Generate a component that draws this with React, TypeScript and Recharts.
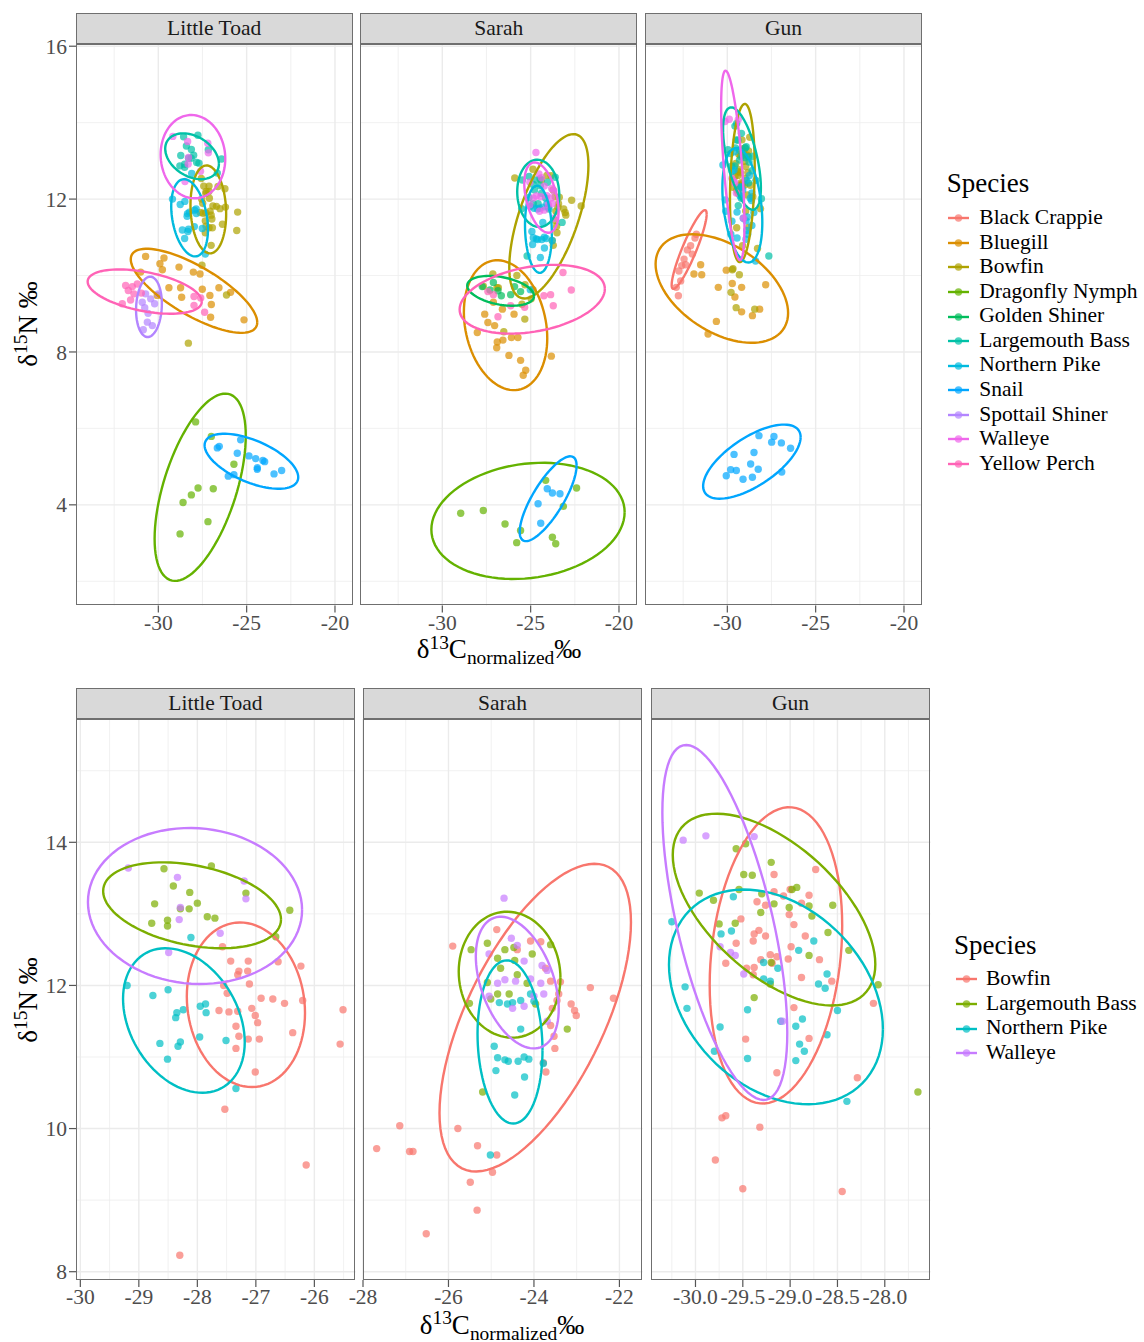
import React from 'react';
import { ScatterChart, Scatter, XAxis, YAxis, ReferenceLine } from 'recharts';

type Pt = [number, number];
// species, centre x, centre y, half-extent x, half-extent y, correlation
type Ell = [string, number, number, number, number, number];

const FONT = '"Liberation Serif", "Times New Roman", serif';

const topSpecies = ['Black Crappie', 'Bluegill', 'Bowfin', 'Dragonfly Nymph', 'Golden Shiner', 'Largemouth Bass', 'Northern Pike', 'Snail', 'Spottail Shiner', 'Walleye', 'Yellow Perch'];
const topColors = ['#F8766D', '#DB8E00', '#AEA200', '#64B200', '#00BD5C', '#00C1A7', '#00BADE', '#00A6FF', '#B385FF', '#EF67EB', '#FF63B6'];
const bottomSpecies = ['Bowfin', 'Largemouth Bass', 'Northern Pike', 'Walleye'];
const bottomColors = ['#F8766D', '#7CAE00', '#00BFC4', '#C77CFF'];
const sites = ['Little Toad', 'Sarah', 'Gun'];

// ---- Little Toad ----
const ltBluegill: Pt[] = [[-30.72, 10.5], [-29.68, 10.46], [-29.91, 10.31], [-29.77, 10.15], [-31.0, 10.09], [-28.83, 10.22], [-28.02, 10.09], [-27.64, 10.04], [-29.4, 9.68], [-28.74, 9.68], [-27.51, 9.64], [-26.57, 9.68], [-25.91, 9.56], [-27.08, 9.48], [-27.0, 9.24], [-28.68, 9.43], [-27.04, 8.91], [-25.15, 8.84], [-30.06, 9.48]];
const ltDragonfly: Pt[] = [[-27.89, 6.17], [-27.0, 5.79], [-25.72, 5.06], [-27.75, 4.44], [-28.13, 4.26], [-28.6, 4.06], [-26.89, 4.42], [-27.19, 3.56], [-28.77, 3.24]];
const ltSnail: Pt[] = [[-26.66, 5.49], [-26.55, 5.53], [-25.34, 5.7], [-25.53, 5.35], [-24.87, 5.28], [-24.49, 5.21], [-24.08, 5.16], [-23.98, 5.13], [-24.4, 4.93], [-24.4, 4.97], [-23.45, 4.81], [-23.02, 4.9], [-26.04, 4.75], [-25.72, 4.79]];
const ltSpottail: Pt[] = [[-30.72, 9.52], [-30.43, 9.39], [-30.91, 9.3], [-30.77, 9.16], [-30.21, 9.26], [-30.58, 9.01], [-30.62, 8.78], [-30.34, 8.69], [-30.85, 8.58], [-30.02, 9.52]];
const ltPerch: Pt[] = [[-31.85, 9.74], [-31.47, 9.71], [-31.19, 9.78], [-31.7, 9.61], [-31.38, 9.52], [-30.96, 9.54], [-32.04, 9.26], [-31.57, 9.36], [-27.98, 9.45], [-27.6, 9.41], [-27.98, 9.22], [-27.38, 9.04]];
const ltBowfin: Pt[] = [[-27.57, 12.54], [-27.43, 12.34], [-27.13, 12.34], [-27.29, 12.2], [-27.14, 12.2], [-27.31, 12.15], [-27.11, 12.02], [-26.62, 12.33], [-26.23, 12.27], [-27.55, 12.0], [-27.49, 11.89], [-27.07, 11.68], [-26.91, 11.82], [-26.71, 11.81], [-26.51, 11.75], [-26.2, 11.79], [-27.63, 11.65], [-27.46, 11.63], [-27.01, 11.58], [-26.97, 11.48], [-27.31, 11.64], [-27.34, 11.43], [-27.29, 11.29], [-27.13, 11.25], [-26.94, 11.25], [-26.37, 11.34], [-27.34, 11.12], [-25.51, 11.66], [-25.56, 11.18], [-27.01, 10.79], [-27.53, 10.27], [-26.14, 9.49], [-28.3, 8.23]];
const ltLargemouth: Pt[] = [[-28.57, 13.63], [-27.76, 13.67], [-28.41, 13.39], [-28.13, 13.3], [-28.0, 13.15], [-28.73, 13.14], [-28.29, 13.07], [-28.14, 13.07], [-28.78, 12.87], [-28.51, 12.91], [-28.51, 12.83], [-27.83, 12.96], [-27.7, 12.94], [-27.17, 13.29], [-26.42, 13.05], [-26.66, 12.68]];
const ltPike: Pt[] = [[-29.2, 12.0], [-28.76, 11.86], [-28.5, 11.94], [-28.11, 12.67], [-27.95, 11.71], [-27.86, 11.74], [-28.35, 11.62], [-28.24, 11.66], [-28.37, 11.55], [-27.85, 11.62], [-27.96, 11.28], [-28.64, 11.19], [-28.29, 11.21], [-28.33, 11.15], [-27.51, 11.23], [-28.51, 10.97], [-27.34, 10.56]];
const ltWalleye: Pt[] = [[-29.18, 13.64], [-28.34, 13.51], [-28.29, 13.09], [-28.31, 12.92], [-28.49, 12.46], [-27.2, 13.46], [-27.17, 13.21], [-27.61, 12.73]];

// ---- Sarah ----
const saBluegill: Pt[] = [[-27.6, 8.99], [-27.42, 8.77], [-27.04, 8.69], [-25.94, 8.99], [-28.02, 8.51], [-26.89, 8.26], [-26.57, 8.31], [-26.09, 8.38], [-25.72, 8.38], [-26.92, 8.11], [-26.23, 7.91], [-25.57, 7.78], [-25.28, 7.52], [-25.42, 7.39], [-23.83, 7.89], [-27.11, 9.3], [-26.6, 9.12]];
const saDragonfly: Pt[] = [[-28.96, 3.78], [-27.68, 3.85], [-26.45, 3.5], [-25.57, 3.33], [-25.79, 3.01], [-24.15, 4.64], [-23.15, 3.96], [-22.4, 4.44], [-23.77, 3.15], [-23.58, 2.98]];
const saGolden: Pt[] = [[-27.74, 9.71], [-27.11, 9.82], [-26.85, 9.6], [-26.66, 9.47], [-26.13, 9.5], [-25.91, 9.71], [-25.57, 9.58], [-27.3, 9.62]];
const saSnail: Pt[] = [[-24.06, 4.42], [-23.77, 4.31], [-23.34, 4.29], [-24.58, 4.03], [-24.43, 3.52]];
const saPerch: Pt[] = [[-27.42, 9.58], [-27.11, 9.5], [-26.85, 8.92], [-23.87, 9.5], [-23.72, 9.21], [-22.7, 9.62], [-23.17, 10.08], [-24.25, 9.47], [-25.34, 9.17], [-26.13, 9.21]];
const saBowfin: Pt[] = [[-25.9, 12.55], [-24.87, 12.78], [-24.08, 12.62], [-23.84, 12.61], [-23.61, 12.06], [-23.38, 12.05], [-23.42, 11.88], [-23.13, 11.74], [-23.05, 11.65], [-23.01, 11.58], [-22.68, 11.97], [-22.14, 11.82], [-23.57, 11.68], [-23.46, 11.79], [-23.61, 11.44], [-23.53, 11.29], [-23.51, 11.12], [-23.78, 10.92], [-23.72, 10.79], [-27.14, 10.04], [-27.68, 9.72], [-26.91, 9.68], [-26.83, 9.68], [-25.78, 10.0], [-25.32, 9.76], [-24.87, 9.63], [-24.97, 9.39], [-25.49, 9.25], [-25.33, 8.86], [-26.52, 8.53], [-24.39, 12.5], [-23.73, 12.24]];
const saLargemouth: Pt[] = [[-25.47, 12.5], [-25.09, 12.59], [-24.68, 12.5], [-24.47, 12.53], [-24.04, 12.44], [-23.61, 12.57], [-24.85, 12.38], [-24.78, 12.24], [-24.45, 12.35], [-25.09, 12.04], [-24.85, 11.88], [-24.58, 11.88], [-25.51, 11.75], [-25.01, 11.81], [-23.96, 11.74], [-23.22, 11.39], [-25.2, 10.51], [-24.39, 12.15], [-24.16, 12.03]];
const saPike: Pt[] = [[-24.81, 11.76], [-24.62, 11.74], [-24.5, 11.76], [-24.31, 11.79], [-24.08, 11.88], [-24.0, 11.78], [-24.31, 11.39], [-24.93, 11.15], [-24.85, 10.99], [-24.68, 10.96], [-24.6, 10.94], [-24.37, 10.94], [-24.23, 11.0], [-24.12, 10.97], [-23.78, 10.91], [-24.89, 10.81], [-24.22, 10.72], [-24.45, 10.47], [-25.02, 9.63]];
const saWalleye: Pt[] = [[-24.7, 13.22], [-25.05, 12.44], [-24.53, 12.66], [-24.39, 12.56], [-24.23, 12.34], [-23.81, 12.28], [-23.69, 12.21], [-24.85, 12.03], [-24.68, 12.08], [-24.43, 12.06], [-24.08, 12.09], [-23.84, 12.03], [-24.0, 11.85], [-24.23, 11.71], [-24.5, 11.68], [-25.05, 11.85], [-23.77, 11.88], [-23.69, 11.5]];

// ---- Gun ----
const guCrappie: Pt[] = [[-31.83, 10.98], [-32.08, 10.78], [-32.26, 10.67], [-31.98, 10.56], [-32.45, 10.43], [-32.58, 10.26], [-32.74, 10.12], [-32.36, 10.28], [-32.64, 9.86], [-32.89, 9.69], [-32.77, 9.47], [-31.75, 11.08]];
const guBluegill: Pt[] = [[-31.51, 10.28], [-31.89, 10.04], [-31.45, 10.02], [-30.51, 9.69], [-30.06, 10.14], [-29.72, 9.79], [-29.19, 9.69], [-29.57, 9.44], [-27.83, 9.76], [-30.62, 8.8], [-31.09, 8.47], [-29.19, 9.05], [-28.58, 8.95], [-28.17, 9.12]];
const guSnail: Pt[] = [[-28.21, 5.81], [-27.36, 5.79], [-27.49, 5.64], [-26.94, 5.62], [-26.42, 5.48], [-29.62, 5.32], [-28.49, 5.37], [-28.68, 5.07], [-28.25, 4.93], [-29.81, 4.92], [-29.49, 4.9], [-30.06, 4.76], [-29.11, 4.67], [-28.58, 4.72], [-26.92, 4.86]];
const guBowfin: Pt[] = [[-28.73, 13.62], [-29.17, 13.55], [-29.17, 13.31], [-29.0, 13.34], [-28.8, 13.26], [-29.07, 13.25], [-28.88, 13.15], [-29.35, 13.17], [-29.26, 13.12], [-29.52, 12.93], [-29.01, 12.99], [-28.96, 12.85], [-28.84, 12.69], [-29.38, 12.72], [-29.33, 12.77], [-29.26, 12.69], [-29.39, 12.62], [-29.57, 12.59], [-28.99, 12.54], [-29.02, 12.37], [-28.69, 12.36], [-29.21, 12.43], [-29.14, 12.4], [-29.31, 12.36], [-29.19, 12.31], [-29.68, 12.31], [-29.38, 12.25], [-29.46, 12.24], [-29.39, 12.15], [-28.88, 12.11], [-28.56, 12.06], [-28.96, 11.69], [-29.47, 11.25], [-28.8, 11.26], [-28.29, 10.71], [-28.12, 11.75], [-29.14, 10.78], [-29.72, 10.15], [-29.68, 10.18], [-29.32, 10.02], [-29.79, 9.56], [-29.5, 9.16], [-28.45, 9.12]];
const guLargemouth: Pt[] = [[-29.57, 13.91], [-29.47, 13.98], [-29.2, 13.72], [-29.49, 13.55], [-29.4, 13.54], [-29.96, 13.29], [-29.81, 13.19], [-29.54, 13.34], [-29.3, 13.28], [-29.17, 13.14], [-28.98, 13.34], [-28.93, 13.37], [-29.01, 13.09], [-28.8, 13.11], [-28.55, 13.12], [-28.77, 12.97], [-29.31, 13.02], [-29.75, 12.86], [-29.58, 12.87], [-28.6, 12.74], [-28.38, 12.49], [-28.8, 12.42], [-29.2, 12.32], [-29.38, 11.83], [-29.21, 12.02], [-28.07, 12.01], [-27.65, 10.51]];
const guPike: Pt[] = [[-30.25, 12.89], [-29.6, 13.24], [-29.73, 12.72], [-29.62, 12.76], [-28.91, 12.49], [-28.75, 12.62], [-28.61, 12.16], [-28.7, 12.02], [-28.63, 11.96], [-29.13, 12.24], [-29.28, 12.09], [-29.21, 12.06], [-30.11, 11.98], [-30.09, 11.68], [-29.45, 11.66], [-29.74, 11.42], [-29.1, 11.5], [-28.94, 11.43], [-28.87, 11.53], [-28.61, 11.31], [-28.9, 11.18], [-28.85, 11.08], [-29.45, 10.98], [-28.94, 10.95], [-29.8, 11.08], [-28.5, 11.65], [-28.4, 10.38], [-29.28, 12.32]];
const guWalleye: Pt[] = [[-30.13, 14.03], [-29.89, 14.09], [-29.38, 14.08], [-29.74, 12.54], [-29.63, 12.46], [-29.58, 12.42], [-29.49, 12.16], [-29.08, 11.5]];

// ellipse statistics
const ltEllipses: Ell[] = [
  ['Bluegill', -27.98, 9.6, 3.58, 1.1, -0.75],
  ['Bowfin', -27.17, 11.73, 1.01, 1.15, -0.1],
  ['Dragonfly Nymph', -27.63, 4.46, 2.58, 2.45, 0.55],
  ['Largemouth Bass', -28.09, 13.12, 1.52, 0.6, -0.33],
  ['Northern Pike', -28.23, 11.51, 1.04, 1.01, -0.3],
  ['Snail', -24.73, 5.14, 2.65, 0.72, -0.58],
  ['Spottail Shiner', -30.53, 9.18, 0.73, 0.79, 0.1],
  ['Walleye', -28.04, 13.11, 1.83, 1.09, -0.05],
  ['Yellow Perch', -30.77, 9.58, 3.23, 0.58, -0.45],
];
const saEllipses: Ell[] = [
  ['Bluegill', -26.42, 8.7, 2.36, 1.7, -0.2],
  ['Bowfin', -23.97, 11.55, 2.24, 2.15, 0.62],
  ['Dragonfly Nymph', -25.15, 3.58, 5.47, 1.52, 0.15],
  ['Golden Shiner', -26.7, 9.6, 1.89, 0.39, -0.35],
  ['Largemouth Bass', -24.57, 12.15, 1.19, 0.88, -0.05],
  ['Northern Pike', -24.56, 11.21, 0.76, 1.14, -0.1],
  ['Snail', -24.01, 4.16, 1.61, 1.11, 0.78],
  ['Walleye', -24.39, 12.04, 0.97, 0.92, -0.4],
  ['Yellow Perch', -24.91, 9.38, 4.11, 0.9, 0.3],
];
const guEllipses: Ell[] = [
  ['Black Crappie', -32.16, 10.68, 0.99, 1.03, 0.9],
  ['Bluegill', -30.31, 9.66, 3.75, 1.42, -0.45],
  ['Bowfin', -29.15, 12.42, 0.7, 2.07, 0.2],
  ['Largemouth Bass', -29.17, 13.06, 1.07, 1.34, -0.57],
  ['Northern Pike', -29.15, 11.84, 1.13, 1.5, -0.3],
  ['Snail', -28.61, 5.13, 2.76, 0.97, 0.66],
  ['Walleye', -29.69, 12.88, 0.66, 2.48, -0.62],
];

// axes
const topXTicks = [-30, -25, -20];
const topXMinor = [-32.5, -27.5, -22.5];
const topYTicks = [4, 8, 12, 16];
const topYMinor = [2, 6, 10, 14];
const topXDomain: [number, number] = [-34.66, -18.98];
const topYDomain: [number, number] = [1.366, 16.058];

const botYTicks = [8, 10, 12, 14];
const botYMinor = [9, 11, 13, 15];
const botYDomain: [number, number] = [7.884, 15.723];
const ltXTicks = [-30, -29, -28, -27, -26];
const ltXMinor = [-29.5, -28.5, -27.5, -26.5, -25.5];
const saXTicks = [-28, -26, -24, -22];
const saXMinor = [-27, -25, -23];
const guXTicks = [-30, -29.5, -29, -28.5, -28];
const guXMinor = [-30.25, -29.75, -29.25, -28.75, -28.25, -27.75];

const sitePoints: Record<string, Record<string, Pt[]>> = {
  'Little Toad': { Bluegill: ltBluegill, Bowfin: ltBowfin, 'Dragonfly Nymph': ltDragonfly, 'Largemouth Bass': ltLargemouth, 'Northern Pike': ltPike, Snail: ltSnail, 'Spottail Shiner': ltSpottail, Walleye: ltWalleye, 'Yellow Perch': ltPerch },
  Sarah: { Bluegill: saBluegill, Bowfin: saBowfin, 'Dragonfly Nymph': saDragonfly, 'Golden Shiner': saGolden, 'Largemouth Bass': saLargemouth, 'Northern Pike': saPike, Snail: saSnail, Walleye: saWalleye, 'Yellow Perch': saPerch },
  Gun: { 'Black Crappie': guCrappie, Bluegill: guBluegill, Bowfin: guBowfin, 'Largemouth Bass': guLargemouth, 'Northern Pike': guPike, Snail: guSnail, Walleye: guWalleye },
};
const siteEllipses: Record<string, Ell[]> = { 'Little Toad': ltEllipses, Sarah: saEllipses, Gun: guEllipses };

function ellipsePts(e: Ell) {
  const [, cx, cy, sx, sy, r] = e;
  const k = Math.sqrt(1 - r * r);
  const out: { x: number; y: number }[] = [];
  for (let i = 0; i <= 90; i++) {
    const t = (i / 90) * 2 * Math.PI;
    out.push({ x: cx + sx * Math.cos(t), y: cy + sy * (r * Math.cos(t) + k * Math.sin(t)) });
  }
  return out;
}

const tickStyle = { fontSize: 21.5, fill: '#4d4d4d', fontFamily: FONT };
const noShape = () => <g />;
const dotShape = (color: string) => (p: any) => <circle cx={p.cx} cy={p.cy} r={3.7} fill={color} fillOpacity={0.7} />;

type FacetProps = {
  left: number; top: number; width: number; height: number; showY: boolean;
  xDomain: [number, number]; yDomain: [number, number];
  xTicks: number[]; xMinor: number[]; yTicks: number[]; yMinor: number[];
  xFmt?: (v: number) => string;
  site: string; species: string[]; colors: string[];
};

const PAD = 30; // room round the plot so edge tick labels are not clipped

const Facet = ({ left, top, width, height, showY, xDomain, yDomain, xTicks, xMinor, yTicks, yMinor, xFmt, site, species, colors }: FacetProps) => {
  const padL = showY ? 60 : PAD;
  const pts = sitePoints[site];
  const ells = siteEllipses[site];
  const groups = species.map((s, i) => ({ s, color: colors[i], data: pts[s] })).filter((g) => g.data);
  const ellGroups = species
    .map((s, i) => ({ s, color: colors[i], e: ells.find((e) => e[0] === s) }))
    .filter((g) => g.e);
  return (
    <>
      <div style={{ position: 'absolute', left: left - padL, top: top - 15 }}>
        <ScatterChart width={width + padL + PAD} height={height + 40 + 15}
          margin={{ top: 15, right: PAD, bottom: 0, left: showY ? 0 : PAD }}>
          <XAxis type="number" dataKey="x" domain={xDomain} ticks={xTicks} interval={0} allowDataOverflow height={40}
            axisLine={false} tickSize={7} tickMargin={2} tickLine={{ stroke: '#555', strokeWidth: 1.2 }} tick={tickStyle}
            tickFormatter={xFmt} />
          <YAxis type="number" dataKey="y" domain={yDomain} ticks={yTicks} interval={0} allowDataOverflow width={60}
            hide={!showY} axisLine={false} tickSize={7} tickMargin={2} tickLine={{ stroke: '#555', strokeWidth: 1.2 }} tick={tickStyle} />
          {xMinor.map((v) => <ReferenceLine key={'xm' + v} x={v} stroke="#eeeeee" strokeWidth={0.8} />)}
          {yMinor.map((v) => <ReferenceLine key={'ym' + v} y={v} stroke="#eeeeee" strokeWidth={0.8} />)}
          {xTicks.map((v) => <ReferenceLine key={'xM' + v} x={v} stroke="#ebebeb" strokeWidth={1.4} />)}
          {yTicks.map((v) => <ReferenceLine key={'yM' + v} y={v} stroke="#ebebeb" strokeWidth={1.4} />)}
          {groups.map((g) => (
            <Scatter key={'p' + g.s} data={g.data.map(([x, y]) => ({ x, y }))} fill={g.color}
              shape={dotShape(g.color)} isAnimationActive={false} />
          ))}
          {ellGroups.map((g) => (
            <Scatter key={'e' + g.s} data={ellipsePts(g.e as Ell)} fill={g.color}
              line={{ stroke: g.color, strokeWidth: 2.4, fill: 'none' }} lineType="joint"
              shape={noShape} isAnimationActive={false} />
          ))}
        </ScatterChart>
      </div>
      <div style={{ position: 'absolute', left, top, width, height, border: '1.4px solid #6f6f6f', boxSizing: 'border-box', pointerEvents: 'none' }} />
    </>
  );
};

const Strip = ({ left, top, width, height, label }: { left: number; top: number; width: number; height: number; label: string }) => (
  <div style={{ position: 'absolute', left, top, width, height, background: '#d9d9d9', border: '1.4px solid #6f6f6f', boxSizing: 'border-box',
    display: 'flex', alignItems: 'center', justifyContent: 'center', fontSize: 21.5, color: '#1a1a1a', lineHeight: '21.5px' }}>
    {label}
  </div>
);

const KeyLegend = ({ titleLeft, titleBaseline, firstCenter, step, keyLeft, textLeft, species, colors }:
  { titleLeft: number; titleBaseline: number; firstCenter: number; step: number; keyLeft: number; textLeft: number; species: string[]; colors: string[] }) => (
  <>
    <div style={{ position: 'absolute', left: titleLeft, top: titleBaseline - 22.6, fontSize: 27, lineHeight: '27px', whiteSpace: 'nowrap' }}>Species</div>
    {species.map((s, i) => {
      const c = firstCenter + i * step;
      return (
        <React.Fragment key={s}>
          <svg style={{ position: 'absolute', left: keyLeft, top: c - 6 }} width={21} height={12}>
            <line x1={0} y1={6} x2={21} y2={6} stroke={colors[i]} strokeWidth={2.4} />
            <circle cx={10.5} cy={6} r={3.7} fill={colors[i]} fillOpacity={0.7} />
          </svg>
          <div style={{ position: 'absolute', left: textLeft, top: c + 6.7 - 18, fontSize: 21.5, lineHeight: '21.5px', whiteSpace: 'nowrap' }}>{s}</div>
        </React.Fragment>
      );
    })}
  </>
);

const supStyle: React.CSSProperties = { fontSize: '0.72em', position: 'relative', top: '-0.5em', lineHeight: 1 };
const subStyle: React.CSSProperties = { fontSize: '0.72em', position: 'relative', top: '0.3em', lineHeight: 1 };

const XTitle = ({ cx, baseline }: { cx: number; baseline: number }) => (
  <div style={{ position: 'absolute', left: cx, top: baseline - 22.6, transform: 'translateX(-50%)', fontSize: 27, lineHeight: '27px', whiteSpace: 'nowrap' }}>
    δ<span style={supStyle}>13</span>C<span style={subStyle}>normalized</span>‰
  </div>
);

const YTitle = ({ cx, cy }: { cx: number; cy: number }) => (
  <div style={{ position: 'absolute', left: cx, top: cy, transform: 'translate(-50%,-50%) rotate(-90deg)', fontSize: 27, lineHeight: '27px', whiteSpace: 'nowrap' }}>
    δ<span style={supStyle}>15</span>N ‰
  </div>
);

const topLefts = [75.7, 360.3, 645];
const botLefts = [75.7, 362.7, 650.7];
const botXDomains: [number, number][] = [[-30.074, -25.297], [-28.0, -21.46], [-30.47, -27.517]];
const botXTicks = [ltXTicks, saXTicks, guXTicks];
const botXMinor = [ltXMinor, saXMinor, guXMinor];

export default function App() {
  return (
    <div style={{ position: 'absolute', left: 0, top: 0, width: 1144, height: 1342, background: '#fff', fontFamily: FONT, color: '#000' }}>
      {sites.map((s, i) => (
        <React.Fragment key={'t' + s}>
          <Facet left={topLefts[i]} top={43.5} width={277} height={561.5} showY={i === 0}
            xDomain={topXDomain} yDomain={topYDomain} xTicks={topXTicks} xMinor={topXMinor}
            yTicks={topYTicks} yMinor={topYMinor} site={s} species={topSpecies} colors={topColors} />
          <Strip left={topLefts[i]} top={12.5} width={277} height={31.5} label={s} />
        </React.Fragment>
      ))}
      <XTitle cx={499} baseline={659} />
      <YTitle cx={27.6} cy={324} />
      <KeyLegend titleLeft={946.7} titleBaseline={193} firstCenter={218.3} step={24.57} keyLeft={948.3} textLeft={979.3}
        species={topSpecies} colors={topColors} />

      {sites.map((s, i) => (
        <React.Fragment key={'b' + s}>
          <Facet left={botLefts[i]} top={719} width={279.5} height={561} showY={i === 0}
            xDomain={botXDomains[i]} yDomain={botYDomain} xTicks={botXTicks[i]} xMinor={botXMinor[i]}
            yTicks={botYTicks} yMinor={botYMinor} xFmt={i === 2 ? (v: number) => v.toFixed(1) : undefined}
            site={s} species={bottomSpecies} colors={bottomColors} />
          <Strip left={botLefts[i]} top={687.5} width={279.5} height={31.5} label={s} />
        </React.Fragment>
      ))}
      <XTitle cx={502} baseline={1334.5} />
      <YTitle cx={27.6} cy={999.5} />
      <KeyLegend titleLeft={954} titleBaseline={955} firstCenter={979.3} step={24.67} keyLeft={956} textLeft={986}
        species={bottomSpecies} colors={bottomColors} />
    </div>
  );
}
